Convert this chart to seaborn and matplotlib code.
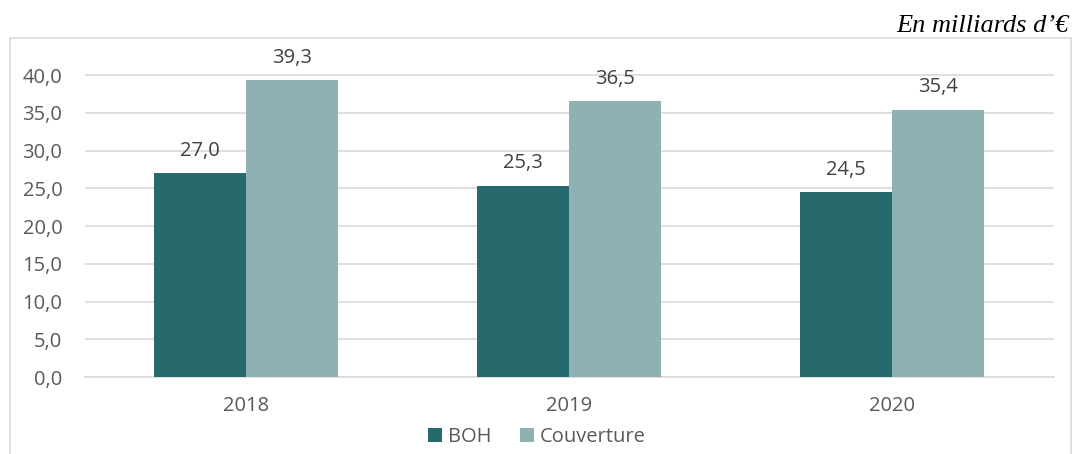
import pandas as pd
import matplotlib.pyplot as plt
import seaborn as sns
from matplotlib.patches import Rectangle


# =========================
# Data
# =========================

years = ["2018", "2019", "2020"]

boh = [27.0, 25.3, 24.5]

couverture = [39.3, 36.5, 35.4]

series_names = ["BOH", "Couverture"]

colors = ["#266A6E", "#8FB1B3"]


df = pd.DataFrame(
    {
        "year": years * 2,
        "value": boh + couverture,
        "serie": [series_names[0]] * 3 + [series_names[1]] * 3,
    }
)


# =========================
# Plot
# =========================

sns.set_style("white")
plt.rcParams["font.family"] = ["Open Sans", "DejaVu Sans"]

fig = plt.figure(figsize=(10.74, 4.54), dpi=100)

ax = fig.add_axes([84.5 / 1074, 0.1696, 969 / 1074, 0.7317])

# chart frame
fig.patches.append(
    Rectangle(
        (10 / 1074, -0.01),
        1061 / 1074,
        1 - 38 / 454 + 0.01,
        transform=fig.transFigure,
        fill=False,
        edgecolor="#D9D9D9",
        linewidth=1.2,
        zorder=0,
    )
)

sns.barplot(
    data=df,
    x="year",
    y="value",
    hue="serie",
    palette=colors,
    width=0.57,
    gap=0,
    saturation=1,
    linewidth=0,
    ax=ax,
    zorder=3,
)

ax.set_xlim(-0.5, 2.5)
ax.set_ylim(0, 44)
ax.set_yticks([0, 5, 10, 15, 20, 25, 30, 35, 40])
ax.set_yticklabels(
    [f"{v:.1f}".replace(".", ",") for v in range(0, 45, 5)]
)

ax.yaxis.grid(True, color="#D9D9D9", linewidth=1.2, zorder=0)
ax.set_axisbelow(True)

for s in ["top", "right", "left"]:
    ax.spines[s].set_visible(False)
ax.spines["bottom"].set_color("#D9D9D9")
ax.spines["bottom"].set_linewidth(1.2)

ax.tick_params(axis="both", length=0, labelsize=14.5, labelcolor="#595959")
ax.tick_params(axis="y", pad=16)
ax.tick_params(axis="x", pad=14)

ax.set_xlabel("")
ax.set_ylabel("")

# data labels
for cont in ax.containers:
    ax.bar_label(
        cont,
        labels=[f"{v:.1f}".replace(".", ",") for v in cont.datavalues],
        padding=9,
        fontsize=14.5,
        color="#404040",
    )

# legend
handles, labels = ax.get_legend_handles_labels()
ax.legend(
    handles,
    labels,
    loc="center",
    bbox_to_anchor=(0.5, 1 - 437 / 454),
    bbox_transform=fig.transFigure,
    frameon=False,
    ncol=2,
    fontsize=14.5,
    labelcolor="#595959",
    handlelength=0.7,
    handleheight=0.7,
    handletextpad=0.3,
    columnspacing=1.4,
    borderpad=0,
)

# unit
fig.text(
    1069 / 1074,
    1 - 32 / 454,
    "En milliards d\u2019\u20ac",
    ha="right",
    va="baseline",
    fontsize=19,
    style="italic",
    family=["Liberation Serif", "DejaVu Serif"],
    color="black",
)

plt.savefig("out.png", dpi=100)
